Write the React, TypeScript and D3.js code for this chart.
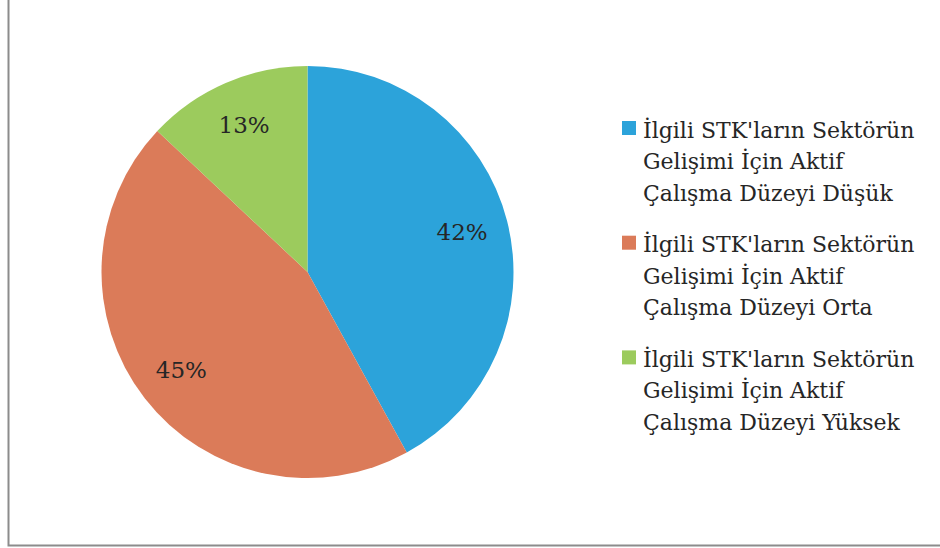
import React from "react";
import * as d3 from "d3";

const categories = [
  "İlgili STK'ların Sektörün Gelişimi İçin Aktif Çalışma Düzeyi Düşük",
  "İlgili STK'ların Sektörün Gelişimi İçin Aktif Çalışma Düzeyi Orta",
  "İlgili STK'ların Sektörün Gelişimi İçin Aktif Çalışma Düzeyi Yüksek",
];
const legendLines = [
  ["İlgili STK'ların Sektörün", "Gelişimi İçin Aktif", "Çalışma Düzeyi Düşük"],
  ["İlgili STK'ların Sektörün", "Gelişimi İçin Aktif", "Çalışma Düzeyi Orta"],
  ["İlgili STK'ların Sektörün", "Gelişimi İçin Aktif", "Çalışma Düzeyi Yüksek"],
];
const values = [42, 45, 13];
const colors = ["#2ca3da", "#db7b59", "#9ccb5d"];

const W = 940;
const H = 548;
const FONT = "'DejaVu Serif', serif";

export default function App() {
  const cx = 307.5;
  const cy = 272;
  const r = 206;
  const pie = d3.pie<number>().sort(null).value((d) => d);
  const arcs = pie(values);
  const arcGen = d3.arc<d3.PieArcDatum<number>>().innerRadius(0).outerRadius(r);
  const labelArc = d3.arc<d3.PieArcDatum<number>>().innerRadius(r * 0.775).outerRadius(r * 0.775);
  const total = d3.sum(values);

  return (
    <svg width={W} height={H} style={{ position: "absolute", left: 0, top: 0 }}>
      <rect x={0} y={0} width={W} height={H} fill="#fff" />
      <path d={`M8.5,0 V545.5 H${W}`} fill="none" stroke="#8c8c8c" strokeWidth={2} />
      <g transform={`translate(${cx},${cy})`}>
        {arcs.map((a, i) => (
          <path key={i} d={arcGen(a) || ""} fill={colors[i]} />
        ))}
        {arcs.map((a, i) => {
          const [x, y] = labelArc.centroid(a);
          return (
            <text
              key={i}
              x={x}
              y={y}
              textAnchor="middle"
              dominantBaseline="central"
              fontFamily={FONT}
              fontSize={23}
              fill="#262626"
            >
              {`${Math.round((values[i] / total) * 100)}%`}
            </text>
          );
        })}
      </g>
      {legendLines.map((lines, i) => (
        <g key={i} transform={`translate(622,${121 + i * 114.7})`}>
          <title>{categories[i]}</title>
          <rect x={0} y={0} width={14} height={14} fill={colors[i]} />
          {lines.map((t, j) => (
            <text
              key={j}
              x={21}
              y={16.5 + j * 31.5}
              fontFamily={FONT}
              fontSize={22}
              fill="#262626"
            >
              {t}
            </text>
          ))}
        </g>
      ))}
    </svg>
  );
}
